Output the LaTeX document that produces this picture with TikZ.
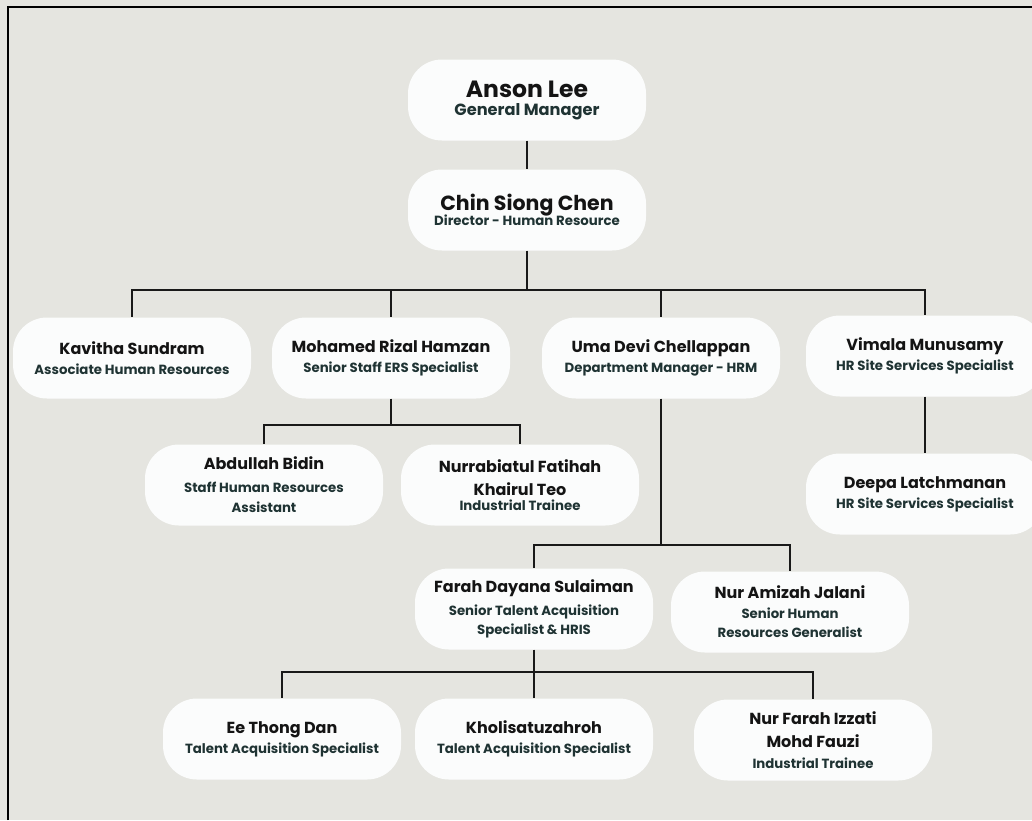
\documentclass[tikz,border=0pt]{standalone}
\usepackage{fontspec}
\setmainfont{Poppins}
\usepackage{tikz}

\definecolor{paper}{HTML}{E5E5E0}
\definecolor{pillfill}{HTML}{FBFCFC}
\definecolor{namecol}{HTML}{141414}
\definecolor{titlecol}{HTML}{1F3333}

\newcommand{\bignm}[1]{{\fontsize{23.5}{22}\selectfont #1}}
\newcommand{\nm}[1]{{\fontsize{16}{22}\selectfont #1}}
\newcommand{\tl}[1]{{\fontsize{13.3}{22}\selectfont\color{titlecol}#1}}
\newcommand{\bigtl}[1]{{\fontsize{16.2}{22}\selectfont\color{titlecol}#1}}

\tikzset{
pill/.style={fill=pillfill, rounded corners=34pt, minimum width=238pt,
  minimum height=81pt, align=center, inner sep=2pt, text=namecol,
  font=\fontsize{12}{21}\selectfont\bfseries},
link/.style={line width=1.8pt, black!90}
}

\begin{document}
\begin{tikzpicture}[x=1pt,y=-1pt]
\path[use as bounding box, fill=paper] (0,0) rectangle (1032,820);
\draw[line width=1.4pt] (8,820) -- (8,7) -- (1032,7);

%%% Bus points
\coordinate (busA) at (527,290);
\coordinate (busB) at (391,425);
\coordinate (busC) at (661,545);
\coordinate (busD) at (534,672);

\draw
(527,100) node[pill](anson){\bignm{Anson Lee}\\[-3pt]\bigtl{General Manager}}
(527,210) node[pill](chin){\fontsize{20.5}{22}\selectfont Chin Siong Chen\\[-6pt]\tl{Director - Human Resource}}
(132,358) node[pill](kav){\nm{Kavitha Sundram}\\[-1pt]\tl{Associate Human Resources}}
(391,358) node[pill](moh){\nm{Mohamed Rizal Hamzan}\\[-1pt]\tl{Senior Staff ERS Specialist}}
(661,358) node[pill](uma){\nm{Uma Devi Chellappan}\\[-1pt]\tl{Department Manager - HRM}}
(925,356) node[pill](vim){\nm{Vimala Munusamy}\\[-1pt]\tl{HR Site Services Specialist}}
(264,485) node[pill](abd){\nm{Abdullah Bidin}\\[2pt]\tl{Staff Human Resources}\\[-1pt]\tl{Assistant}}
(520,485) node[pill](nur){\nm{Nurrabiatul Fatihah}\\[2pt]\nm{Khairul Teo}\\[-6pt]\tl{Industrial Trainee}}
(925,494) node[pill](deepa){\nm{Deepa Latchmanan}\\[-1pt]\tl{HR Site Services Specialist}}
(534,609) node[pill](farah){\nm{Farah Dayana Sulaiman}\\[2pt]\tl{Senior Talent Acquisition}\\[-2pt]\tl{Specialist \& HRIS}}
(790,612) node[pill](amiz){\nm{Nur Amizah Jalani}\\[-1pt]\tl{Senior Human}\\[-2pt]\tl{Resources Generalist}}
(282,739) node[pill](ee){\nm{Ee Thong Dan}\\[-1pt]\tl{Talent Acquisition Specialist}}
(534,739) node[pill](khol){\nm{Kholisatuzahroh}\\[-1pt]\tl{Talent Acquisition Specialist}}
(813,740) node[pill](izz){\nm{Nur Farah Izzati}\\[2pt]\nm{Mohd Fauzi}\\[0pt]\tl{Industrial Trainee}}
;

%%% Straight links
\foreach \a/\b in {anson/chin, vim/deepa}{
\draw[link](\a.south) -- (\b.north);
}
%%% Parent down to bus
\foreach \a/\b in {chin/busA, moh/busB, uma/busC, farah/busD}{
\draw[link](\a.south) -- (\b);
}
%%% Bus out to child
\foreach \b/\c in {busA/kav, busA/moh, busA/uma, busA/vim, busB/abd, busB/nur,
busC/farah, busC/amiz, busD/ee, busD/khol, busD/izz}{
\draw[link](\b) -| (\c.north);
}

\end{tikzpicture}
\end{document}
